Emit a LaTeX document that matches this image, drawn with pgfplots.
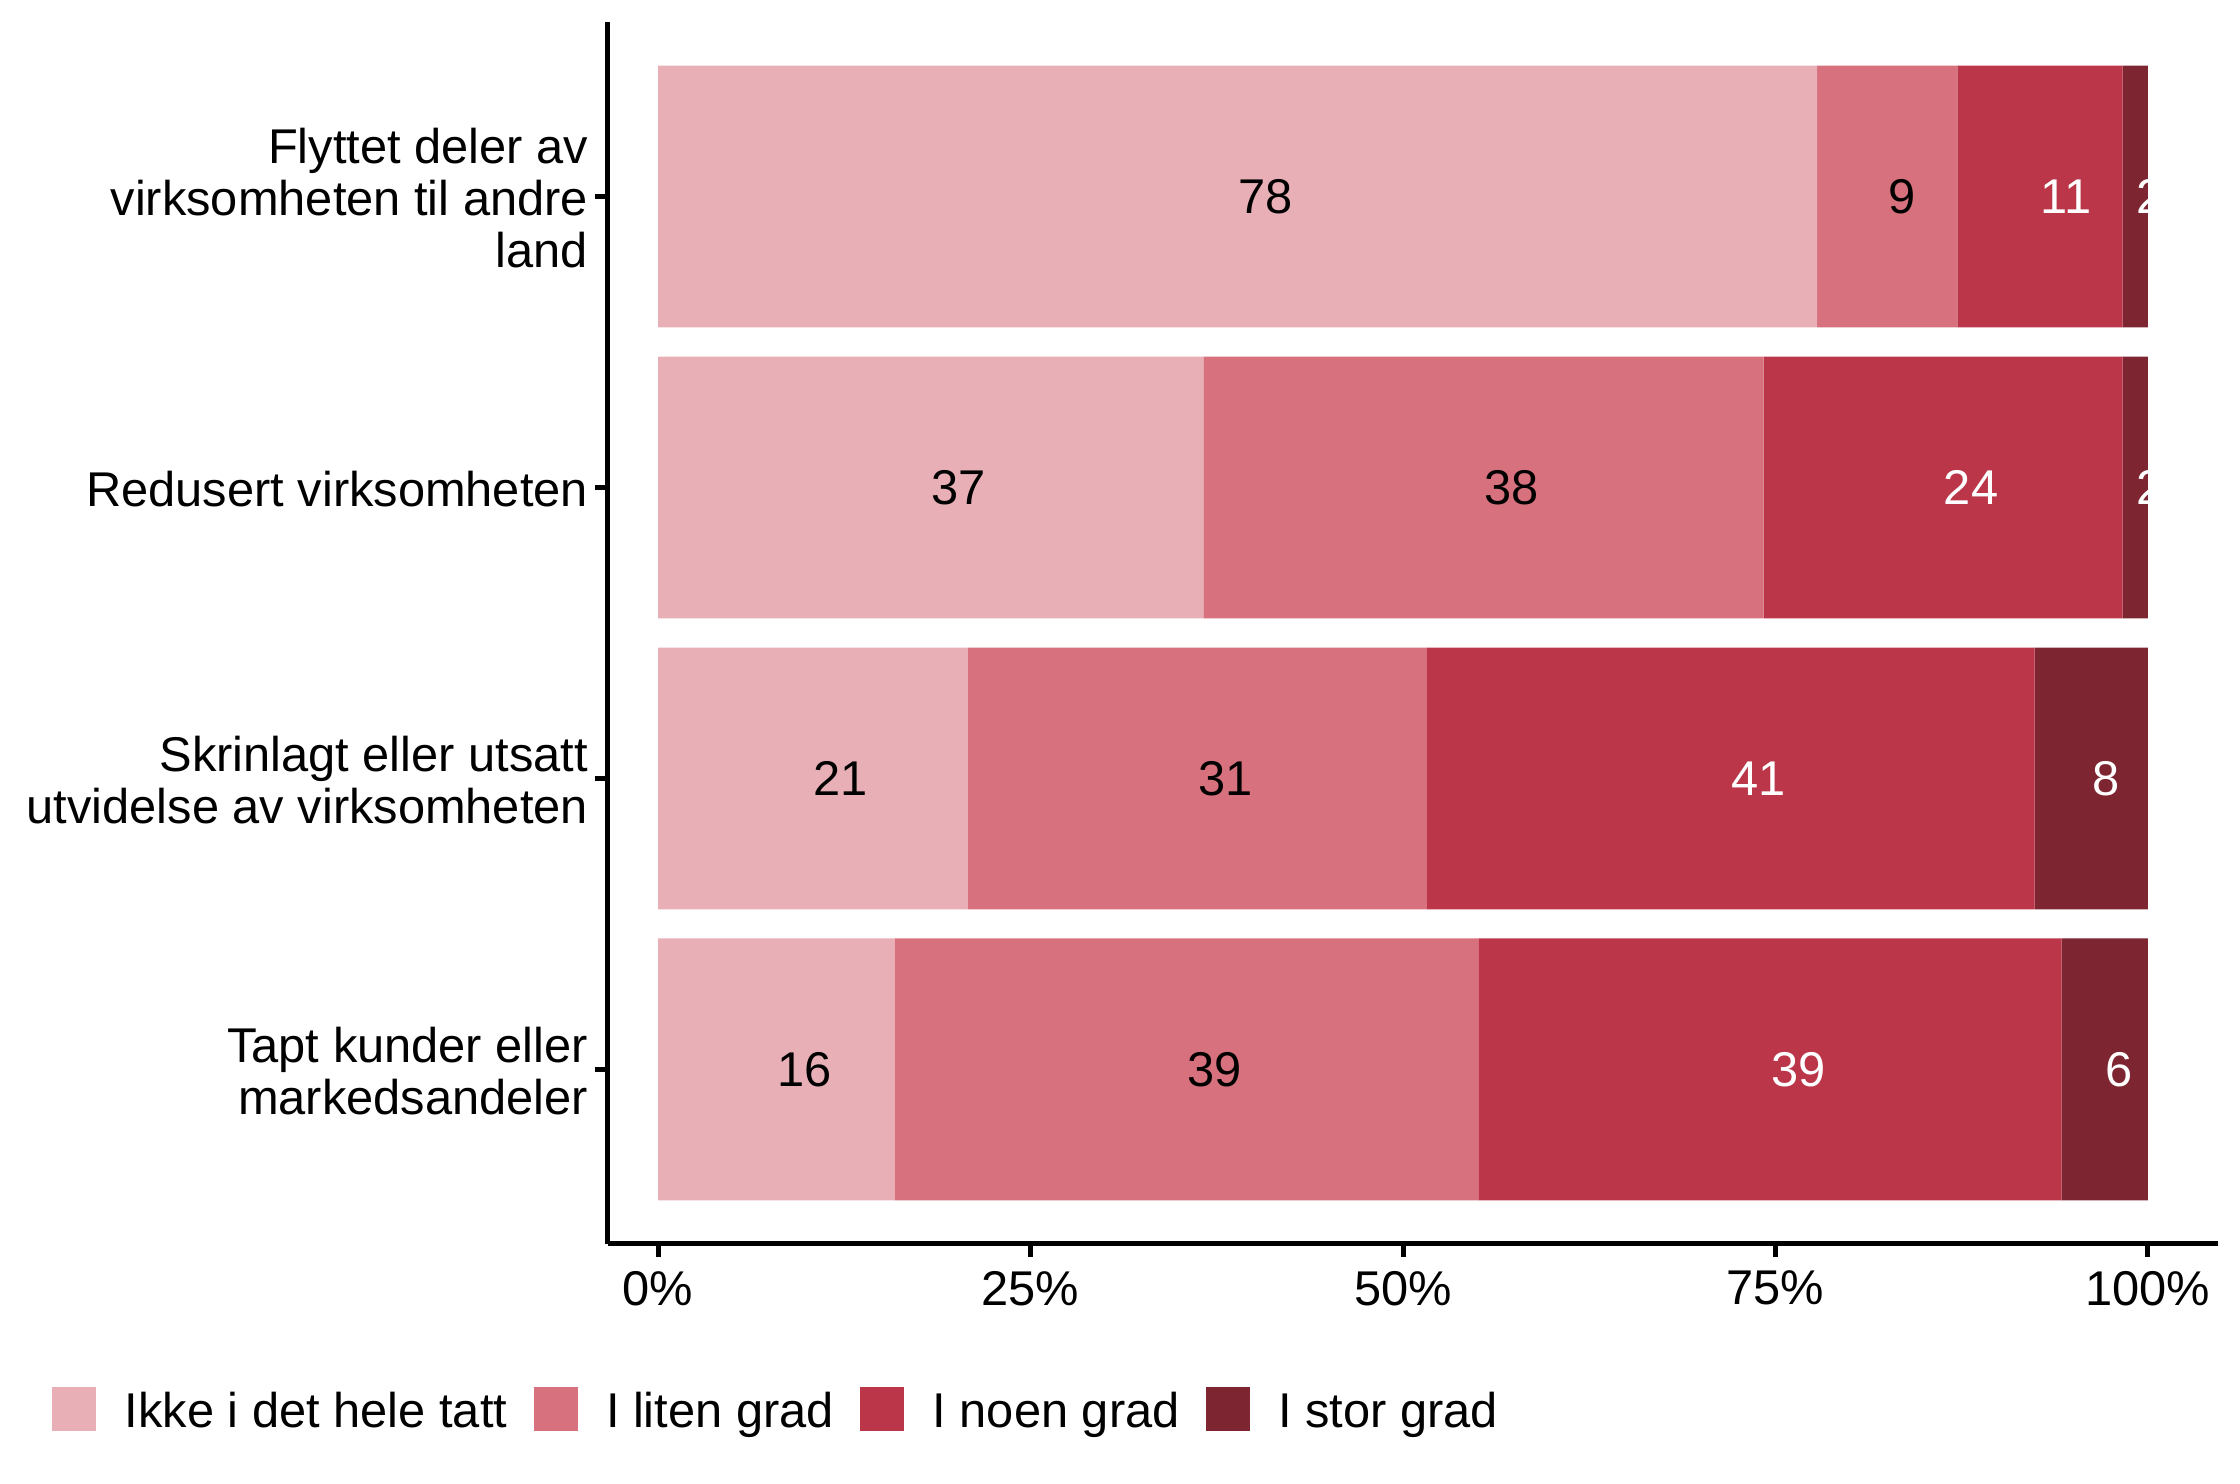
\documentclass[border=0pt]{standalone}
\usepackage{fontspec}
\setmainfont{Liberation Sans}
\usepackage{pgfplots}
\usepackage{pgfplotstable}
\pgfplotsset{compat=1.18}
\definecolor{c1}{HTML}{E8B0B6}
\definecolor{c2}{HTML}{D7717D}
\definecolor{c3}{HTML}{BB3649}
\definecolor{c4}{HTML}{7D2530}
\newcommand\fs{\fontsize{12.2}{13}\selectfont}
\pgfplotstableread{
y a b c d
4 77.8 9.4 11.1 1.7
3 36.6 37.6 24.1 1.7
2 20.8 30.8 40.8 7.6
1 15.9 39.2 39.1 5.8
}\data
\pgfplotsset{common/.style={scale only axis, width=402.5pt, height=305.5pt,
  xmin=-3.36, xmax=104.7, ymin=0.4, ymax=4.6, at={(0pt,0pt)}, anchor=south west}}
\begin{document}
\begin{tikzpicture}
\begin{axis}[common, xbar stacked, bar width=0.9,
  axis x line=bottom, axis y line=left,
  axis line style={-, line width=1.25pt, black},
  tick align=outside, major tick length=3.25pt,
  tick style={line width=1.25pt, black},
  xtick={0,25,50,75,100}, xticklabels={0\%,25\%,50\%,75\%,100\%},
  ytick={1,2,3,4},
  yticklabels={{Tapt kunder eller\\markedsandeler},{Skrinlagt eller utsatt\\utvidelse av virksomheten},{Redusert virksomheten},{Flyttet deler av\\virksomheten til andre\\land}},
  ticklabel style={font=\fs, text=black},
  yticklabel style={align=right, xshift=1.8pt, yshift=-0.4pt},
  legend image code/.code={\fill[#1, draw=none] (0pt,-4.6pt) rectangle (11pt,6.4pt);},
  legend columns=4,
  legend style={draw=none, fill=none, inner sep=0pt, font=\fs,
    at={(axis description cs:-0.3456,-0.1358)}, anchor=west,
    /tikz/every odd column/.append style={column sep=7.1pt},
    /tikz/every even column/.append style={column sep=6.6pt},
    nodes={inner sep=0pt}},
]
\addplot[fill=c1, draw=none] table[x=a, y=y] {\data};
\addplot[fill=c2, draw=none] table[x=b, y=y] {\data};
\addplot[fill=c3, draw=none] table[x=c, y=y] {\data};
\addplot[fill=c4, draw=none] table[x=d, y=y] {\data};
\legend{Ikke i det hele tatt, I liten grad, I noen grad, I stor grad}
\end{axis}
\begin{axis}[common, hide axis, /pgf/number format/assume math mode=true,
  every node near coord/.append style={anchor=west, inner sep=0pt, font=\fs}]
\addplot[draw=none, nodes near coords={\pgfmathprintnumber[fixed,precision=0,assume math mode=true]{\pgfplotspointmeta}},
  point meta={\thisrow{a}}, every node near coord/.append style={text=black}]
  table[x expr=\thisrow{a}/2, y=y] {\data};
\addplot[draw=none, nodes near coords={\pgfmathprintnumber[fixed,precision=0,assume math mode=true]{\pgfplotspointmeta}},
  point meta={\thisrow{b}}, every node near coord/.append style={text=black}]
  table[x expr=\thisrow{a}+\thisrow{b}/2, y=y] {\data};
\addplot[draw=none, nodes near coords={\pgfmathprintnumber[fixed,precision=0,assume math mode=true]{\pgfplotspointmeta}},
  point meta={\thisrow{c}}, every node near coord/.append style={text=white}]
  table[x expr=\thisrow{a}+\thisrow{b}+\thisrow{c}/2, y=y] {\data};
\addplot[draw=none, nodes near coords={\pgfmathprintnumber[fixed,precision=0,assume math mode=true]{\pgfplotspointmeta}},
  point meta={\thisrow{d}}, every node near coord/.append style={text=white}]
  table[x expr=\thisrow{a}+\thisrow{b}+\thisrow{c}+\thisrow{d}/2, y=y] {\data};
\end{axis}
\pgfresetboundingbox
\path (-152pt,-60pt) rectangle (408pt,311pt);
\end{tikzpicture}
\end{document}
